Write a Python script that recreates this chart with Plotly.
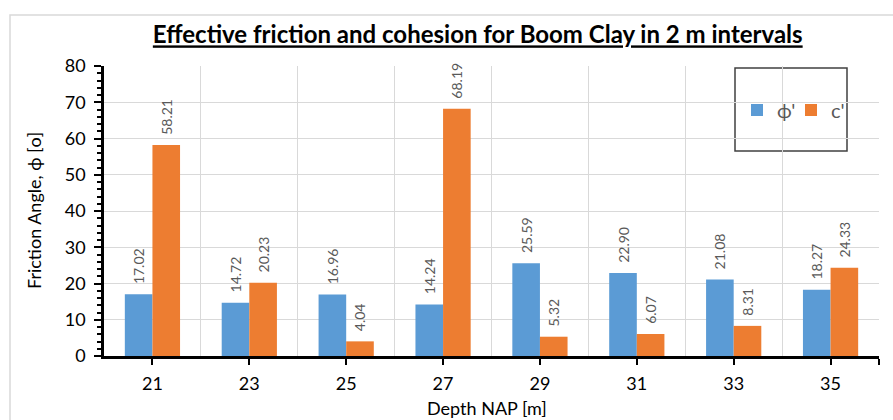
import plotly.graph_objects as go

depths = [21, 23, 25, 27, 29, 31, 33, 35]
phi_vals = [17.02, 14.72, 16.96, 14.24, 25.59, 22.90, 21.08, 18.27]
c_vals = [58.21, 20.23, 4.04, 68.19, 5.32, 6.07, 8.31, 24.33]
tick_vals = depths + [36]
tick_text = [str(d) for d in depths] + [""]

FONT = "Lato"
W, H = 893, 420
L, R, T, B = 104, 14, 66, 64
PW = W - L - R
PH = H - T - B

def px_x(x):
    return (x - L) / PW

def px_y(y):
    return (H - B - y) / PH

fig = go.Figure()
for name, vals, col, leg in [("ϕ'", phi_vals, "#5B9BD5", "legend"), ("c'", c_vals, "#ED7D31", "legend2")]:
    fig.add_trace(go.Bar(
        x=depths, y=vals, name=name, marker=dict(color=col, line=dict(width=0)),
        texttemplate="\u00a0\u00a0%{y:.2f}", textposition="outside", textangle=-90,
        constraintext="none", legend=leg,
        textfont=dict(color="#595959", size=14, family=FONT), cliponaxis=False,
    ))

leg_common = dict(
    orientation="h", yanchor="middle", y=px_y(110), xanchor="left",
    bgcolor="rgba(0,0,0,0)", borderwidth=0,
    font=dict(size=20, family=FONT, color="#595959"),
)

fig.update_layout(
    width=W, height=H,
    margin=dict(l=L, r=R, t=T, b=B),
    paper_bgcolor="white", plot_bgcolor="white",
    font=dict(family=FONT, color="black"),
    barmode="group", bargap=0.43, bargroupgap=0,
    title=dict(
        text="<b><u>Effective friction and cohesion for Boom Clay in 2 m intervals</u></b>",
        x=0.535, xanchor="center", xref="container",
        y=1 - 35 / H, yanchor="middle", yref="container",
        font=dict(size=24, family=FONT, color="black"),
    ),
    xaxis=dict(
        range=[20, 36], tickvals=tick_vals, ticktext=tick_text,
        showgrid=False, ticks="outside", ticklen=6, tickwidth=2, tickcolor="black",
        showline=True, linecolor="black", linewidth=2.5,
        tickfont=dict(size=18, family=FONT, color="black"),
        ticklabelstandoff=4,
        minor=dict(tick0=20, dtick=2, showgrid=True, gridcolor="#D9D9D9", gridwidth=1, ticks=""),
        zeroline=False,
    ),
    xaxis2=dict(
        range=[20, 36], tickvals=tick_vals, overlaying="x", anchor="y",
        showgrid=False, ticks="inside", ticklen=6, tickwidth=2, tickcolor="black",
        showticklabels=False, showline=False, zeroline=False,
    ),
    yaxis=dict(
        range=[0, 80], dtick=10, showgrid=True, gridcolor="#D9D9D9", gridwidth=1,
        ticks="outside", ticklen=7, tickwidth=2, tickcolor="black",
        showline=True, linecolor="black", linewidth=2.5,
        tickfont=dict(size=18, family=FONT, color="black"),
        ticklabelstandoff=5,
        minor=dict(dtick=2, ticks="outside", ticklen=4, tickwidth=1.5, tickcolor="black", showgrid=False),
        zeroline=False,
    ),
    yaxis2=dict(
        range=[0, 80], dtick=10, overlaying="y", anchor="x",
        showgrid=False, ticks="inside", ticklen=7, tickwidth=2, tickcolor="black",
        showticklabels=False, showline=False, zeroline=False,
    ),
    legend=dict(x=px_x(737), **leg_common),
    legend2=dict(x=px_x(791), **leg_common),
    showlegend=True,
)

fig.add_shape(type="rect", xref="paper", yref="paper",
              x0=px_x(10), x1=px_x(905), y0=px_y(430), y1=px_y(15),
              line=dict(color="#D9D9D9", width=1.5), fillcolor="rgba(0,0,0,0)", layer="below")
fig.add_shape(type="rect", xref="paper", yref="paper",
              x0=px_x(735), x1=px_x(847), y0=px_y(151), y1=px_y(68),
              line=dict(color="#404040", width=1.5), fillcolor="white", layer="between")

fig.add_annotation(text="Depth NAP [m]", xref="paper", yref="paper",
                   x=px_x(487), y=px_y(408), xanchor="center", yanchor="middle",
                   showarrow=False, font=dict(size=18, family=FONT, color="black"))
fig.add_annotation(text="Friction Angle, ϕ [o]", xref="paper", yref="paper",
                   x=px_x(34), y=px_y(211), xanchor="center", yanchor="middle",
                   textangle=-90, showarrow=False, font=dict(size=18, family=FONT, color="black"))

fig.write_html("out.html")
